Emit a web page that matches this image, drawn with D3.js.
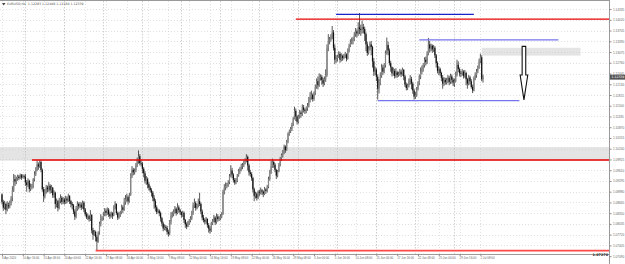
<!DOCTYPE html>
<html>
<head>
<meta charset="utf-8">
<script src="https://cdn.jsdelivr.net/npm/d3@7"></script>
<style>
body { margin: 0; background: #fff; }
svg { display: block; font-family: "DejaVu Sans", sans-serif; }
</style>
</head>
<body>
<svg id="chart" width="625" height="264"></svg>
<script>
// EURUSD H4, 8 Apr 2020 -> 2 Jul 2020, one row per trading day (6 bars)
var firstOpen = 1.0890;
var closes = [
  1.0868,1.0851,1.0862,1.0845,1.0858,1.0855,
  1.0866,1.0878,1.0902,1.0935,1.0928,1.0936,
  1.0942,1.0938,1.0946,1.0940,1.0944,1.0942,
  1.0925,1.0918,1.0930,1.0906,1.0912,1.0914,
  1.0934,1.0950,1.0962,1.0978,1.0972,1.0985,
  1.0962,1.0905,1.0885,1.0898,1.0910,1.0905,
  1.0915,1.0902,1.0910,1.0888,1.0895,1.0862,
  1.0870,1.0850,1.0872,1.0880,1.0868,1.0875,
  1.0868,1.0878,1.0872,1.0885,1.0870,1.0862,
  1.0858,1.0840,1.0825,1.0848,1.0862,1.0855,
  1.0860,1.0852,1.0866,1.0846,1.0832,1.0823,
  1.0826,1.0818,1.0830,1.0785,1.0772,1.0780,
  1.0765,1.0752,1.0778,1.0804,1.0818,1.0820,
  1.0830,1.0842,1.0836,1.0845,1.0832,1.0826,
  1.0834,1.0828,1.0850,1.0862,1.0835,1.0822,
  1.0830,1.0836,1.0852,1.0845,1.0866,1.0876,
  1.0882,1.0870,1.0888,1.0945,1.0962,1.0955,
  1.0960,1.0975,1.0990,1.1002,1.0982,1.0980,
  1.0965,1.0952,1.0930,1.0935,1.0920,1.0910,
  1.0902,1.0895,1.0880,1.0870,1.0852,1.0838,
  1.0842,1.0835,1.0820,1.0805,1.0790,1.0795,
  1.0792,1.0780,1.0775,1.0810,1.0828,1.0833,
  1.0840,1.0848,1.0835,1.0852,1.0844,1.0838,
  1.0830,1.0836,1.0815,1.0802,1.0796,1.0807,
  1.0812,1.0820,1.0835,1.0858,1.0865,1.0850,
  1.0858,1.0870,1.0862,1.0840,1.0822,1.0815,
  1.0810,1.0818,1.0800,1.0790,1.0784,1.0805,
  1.0812,1.0822,1.0808,1.0825,1.0818,1.0820,
  1.0825,1.0832,1.0898,1.0910,1.0915,1.0918,
  1.0926,1.0944,1.0960,1.0948,1.0932,1.0925,
  1.0930,1.0945,1.0958,1.0962,1.0972,1.0975,
  1.0985,1.0990,1.1000,1.0975,1.0955,1.0950,
  1.0938,1.0905,1.0885,1.0892,1.0880,1.0898,
  1.0895,1.0902,1.0898,1.0892,1.0905,1.0900,
  1.0912,1.0935,1.0955,1.0972,1.0985,1.0977,
  1.0962,1.0945,1.0958,1.0975,1.0995,1.1006,
  1.1015,1.1030,1.1020,1.1045,1.1068,1.1074,
  1.1082,1.1095,1.1112,1.1135,1.1118,1.1103,
  1.1118,1.1130,1.1126,1.1145,1.1138,1.1135,
  1.1142,1.1150,1.1168,1.1175,1.1182,1.1170,
  1.1188,1.1205,1.1222,1.1210,1.1232,1.1235,
  1.1226,1.1215,1.1228,1.1240,1.1318,1.1340,
  1.1345,1.1352,1.1365,1.1320,1.1285,1.1290,
  1.1294,1.1302,1.1285,1.1296,1.1290,1.1294,
  1.1300,1.1288,1.1310,1.1325,1.1336,1.1340,
  1.1345,1.1360,1.1368,1.1362,1.1380,1.1375,
  1.1372,1.1380,1.1375,1.1360,1.1330,1.1305,
  1.1318,1.1330,1.1322,1.1280,1.1250,1.1256,
  1.1235,1.1200,1.1215,1.1238,1.1262,1.1250,
  1.1268,1.1305,1.1328,1.1312,1.1275,1.1263,
  1.1245,1.1252,1.1238,1.1248,1.1240,1.1243,
  1.1250,1.1242,1.1255,1.1236,1.1212,1.1202,
  1.1210,1.1222,1.1228,1.1215,1.1195,1.1177,
  1.1182,1.1198,1.1215,1.1235,1.1250,1.1258,
  1.1268,1.1285,1.1278,1.1302,1.1330,1.1318,
  1.1326,1.1315,1.1320,1.1298,1.1275,1.1252,
  1.1258,1.1246,1.1232,1.1215,1.1226,1.1219,
  1.1225,1.1232,1.1220,1.1236,1.1226,1.1218,
  1.1222,1.1240,1.1270,1.1258,1.1245,1.1244,
  1.1250,1.1238,1.1246,1.1228,1.1215,1.1233,
  1.1222,1.1205,1.1195,1.1230,1.1240,1.1251,
  1.1262,1.1280,1.1292,1.1228,1.12339
];
var highs = [
  1.0893,1.0874,1.0871,1.0866,1.0870,1.0866,
  1.0872,1.0885,1.0914,1.0950,1.0947,1.0942,
  1.0948,1.0947,1.0951,1.0950,1.0949,1.0948,
  1.0950,1.0932,1.0937,1.0933,1.0922,1.0921,
  1.0938,1.0958,1.0970,1.0990,1.0984,1.0990,
  1.0990,1.0966,1.0912,1.0906,1.0918,1.0916,
  1.0926,1.0920,1.0918,1.0912,1.0902,1.0898,
  1.0878,1.0874,1.0880,1.0890,1.0885,1.0882,
  1.0880,1.0886,1.0884,1.0892,1.0888,1.0874,
  1.0868,1.0862,1.0846,1.0856,1.0870,1.0866,
  1.0868,1.0866,1.0872,1.0870,1.0850,1.0838,
  1.0834,1.0830,1.0844,1.0832,1.0792,1.0786,
  1.0784,1.0770,1.0782,1.0810,1.0832,1.0826,
  1.0838,1.0850,1.0848,1.0852,1.0850,1.0838,
  1.0840,1.0838,1.0858,1.0870,1.0864,1.0840,
  1.0838,1.0842,1.0860,1.0858,1.0880,1.0888,
  1.0892,1.0887,1.0894,1.0952,1.0973,1.0968,
  1.0966,1.0982,1.0998,1.1019,1.1008,1.0990,
  1.0985,1.0970,1.0958,1.0944,1.0940,1.0926,
  1.0915,1.0908,1.0900,1.0888,1.0876,1.0858,
  1.0848,1.0846,1.0840,1.0824,1.0810,1.0802,
  1.0800,1.0798,1.0786,1.0815,1.0838,1.0840,
  1.0846,1.0856,1.0852,1.0864,1.0858,1.0848,
  1.0840,1.0842,1.0840,1.0818,1.0808,1.0812,
  1.0818,1.0826,1.0842,1.0866,1.0878,1.0870,
  1.0862,1.0878,1.0895,1.0866,1.0846,1.0830,
  1.0820,1.0824,1.0820,1.0806,1.0796,1.0810,
  1.0818,1.0830,1.0826,1.0834,1.0832,1.0826,
  1.0832,1.0838,1.0904,1.0920,1.0925,1.0924,
  1.0932,1.0950,1.0976,1.0968,1.0952,1.0938,
  1.0938,1.0950,1.0965,1.0970,1.0980,1.0982,
  1.0990,1.0996,1.1008,1.1004,1.0980,1.0962,
  1.0955,1.0942,1.0910,1.0898,1.0896,1.0902,
  1.0904,1.0910,1.0906,1.0902,1.0912,1.0908,
  1.0918,1.0942,1.0962,1.0988,1.0995,1.0990,
  1.0982,1.0965,1.0962,1.0982,1.1000,1.1010,
  1.1020,1.1036,1.1034,1.1050,1.1072,1.1080,
  1.1088,1.1100,1.1118,1.1147,1.1142,1.1122,
  1.1124,1.1138,1.1136,1.1154,1.1152,1.1142,
  1.1148,1.1158,1.1176,1.1190,1.1194,1.1186,
  1.1192,1.1212,1.1230,1.1236,1.1245,1.1242,
  1.1240,1.1232,1.1236,1.1257,1.1330,1.1360,
  1.1352,1.1360,1.1384,1.1372,1.1330,1.1298,
  1.1300,1.1310,1.1308,1.1304,1.1300,1.1302,
  1.1308,1.1304,1.1318,1.1332,1.1345,1.1350,
  1.1352,1.1366,1.1378,1.1374,1.1395,1.1422,
  1.1388,1.1400,1.1390,1.1382,1.1365,1.1338,
  1.1325,1.1338,1.1340,1.1326,1.1290,1.1265,
  1.1260,1.1242,1.1228,1.1248,1.1272,1.1270,
  1.1275,1.1312,1.1350,1.1338,1.1318,1.1282,
  1.1265,1.1262,1.1258,1.1260,1.1252,1.1250,
  1.1258,1.1256,1.1262,1.1258,1.1240,1.1218,
  1.1215,1.1230,1.1240,1.1235,1.1220,1.1200,
  1.1190,1.1205,1.1222,1.1242,1.1262,1.1268,
  1.1275,1.1292,1.1294,1.1310,1.1349,1.1340,
  1.1332,1.1330,1.1328,1.1325,1.1302,1.1280,
  1.1266,1.1262,1.1250,1.1240,1.1234,1.1232,
  1.1232,1.1240,1.1238,1.1244,1.1242,1.1232,
  1.1230,1.1250,1.1285,1.1280,1.1262,1.1252,
  1.1258,1.1254,1.1255,1.1250,1.1232,1.1240,
  1.1238,1.1228,1.1212,1.1236,1.1248,1.1258,
  1.1268,1.1288,1.1303,1.1298,1.12408
];
var lows = [
  1.0861,1.0842,1.0846,1.0832,1.0840,1.0848,
  1.0849,1.0858,1.0870,1.0897,1.0915,1.0920,
  1.0930,1.0932,1.0935,1.0933,1.0937,1.0936,
  1.0915,1.0898,1.0912,1.0896,1.0900,1.0905,
  1.0908,1.0928,1.0944,1.0958,1.0962,1.0968,
  1.0955,1.0898,1.0868,1.0878,1.0892,1.0896,
  1.0898,1.0892,1.0894,1.0880,1.0880,1.0848,
  1.0852,1.0840,1.0846,1.0864,1.0860,1.0862,
  1.0860,1.0862,1.0864,1.0868,1.0862,1.0852,
  1.0846,1.0832,1.0815,1.0820,1.0842,1.0846,
  1.0850,1.0844,1.0848,1.0838,1.0826,1.0818,
  1.0815,1.0810,1.0812,1.0776,1.0757,1.0768,
  1.0752,1.0727,1.0748,1.0772,1.0796,1.0812,
  1.0815,1.0826,1.0826,1.0830,1.0824,1.0818,
  1.0822,1.0818,1.0826,1.0846,1.0830,1.0815,
  1.0818,1.0824,1.0832,1.0836,1.0842,1.0860,
  1.0868,1.0860,1.0866,1.0886,1.0938,1.0946,
  1.0948,1.0955,1.0970,1.0980,1.0975,1.0972,
  1.0952,1.0940,1.0922,1.0918,1.0908,1.0902,
  1.0896,1.0884,1.0870,1.0848,1.0840,1.0832,
  1.0834,1.0826,1.0810,1.0796,1.0782,1.0785,
  1.0784,1.0772,1.0766,1.0770,1.0802,1.0822,
  1.0826,1.0834,1.0828,1.0832,1.0836,1.0830,
  1.0822,1.0824,1.0806,1.0792,1.0788,1.0794,
  1.0800,1.0808,1.0815,1.0830,1.0850,1.0842,
  1.0846,1.0852,1.0856,1.0832,1.0814,1.0808,
  1.0802,1.0804,1.0792,1.0778,1.0775,1.0780,
  1.0800,1.0808,1.0800,1.0804,1.0810,1.0812,
  1.0815,1.0820,1.0830,1.0890,1.0902,1.0908,
  1.0912,1.0920,1.0940,1.0938,1.0925,1.0918,
  1.0920,1.0926,1.0942,1.0950,1.0958,1.0964,
  1.0970,1.0978,1.0984,1.0960,1.0945,1.0942,
  1.0930,1.0896,1.0870,1.0878,1.0872,1.0876,
  1.0885,1.0890,1.0888,1.0882,1.0888,1.0892,
  1.0896,1.0908,1.0930,1.0950,1.0968,1.0968,
  1.0955,1.0935,1.0940,1.0955,1.0972,1.0988,
  1.0998,1.1008,1.1012,1.1018,1.1040,1.1062,
  1.1070,1.1076,1.1090,1.1110,1.1105,1.1095,
  1.1098,1.1112,1.1115,1.1120,1.1130,1.1126,
  1.1128,1.1135,1.1145,1.1160,1.1168,1.1162,
  1.1165,1.1182,1.1200,1.1198,1.1205,1.1224,
  1.1212,1.1205,1.1210,1.1220,1.1235,1.1310,
  1.1330,1.1338,1.1345,1.1312,1.1272,1.1276,
  1.1280,1.1290,1.1276,1.1280,1.1282,1.1286,
  1.1290,1.1280,1.1285,1.1306,1.1322,1.1330,
  1.1330,1.1340,1.1352,1.1350,1.1355,1.1360,
  1.1355,1.1362,1.1362,1.1340,1.1310,1.1296,
  1.1300,1.1312,1.1298,1.1262,1.1237,1.1240,
  1.1222,1.1168,1.1186,1.1210,1.1232,1.1240,
  1.1245,1.1262,1.1300,1.1298,1.1268,1.1250,
  1.1236,1.1238,1.1230,1.1232,1.1232,1.1235,
  1.1238,1.1234,1.1238,1.1225,1.1205,1.1195,
  1.1196,1.1204,1.1212,1.1198,1.1185,1.1168,
  1.1170,1.1176,1.1195,1.1210,1.1228,1.1242,
  1.1250,1.1262,1.1268,1.1272,1.1298,1.1306,
  1.1310,1.1305,1.1308,1.1290,1.1262,1.1245,
  1.1240,1.1238,1.1222,1.1200,1.1208,1.1212,
  1.1212,1.1216,1.1210,1.1214,1.1215,1.1208,
  1.1205,1.1218,1.1236,1.1248,1.1236,1.1234,
  1.1238,1.1230,1.1232,1.1210,1.1200,1.1210,
  1.1212,1.1200,1.1187,1.1192,1.1225,1.1232,
  1.1245,1.1258,1.1275,1.1222,1.12180
];

var priceTicks = [1.14335,1.14020,1.13705,1.13390,1.13075,1.12760,1.12445,1.12130,
  1.11815,1.11500,1.11185,1.10870,1.10555,1.10240,1.09925,1.09610,1.09295,1.08980,
  1.08665,1.08350,1.08035,1.07720,1.07405,1.07090];
var timeLabels = ["8 Apr 2020","10 Apr 16:00","15 Apr 08:00","20 Apr 00:00","22 Apr 16:00",
  "27 Apr 08:00","30 Apr 00:00","4 May 16:00","7 May 08:00","12 May 00:00","14 May 16:00",
  "19 May 08:00","22 May 00:00","26 May 16:00","29 May 08:00","3 Jun 00:00","5 Jun 16:00",
  "10 Jun 08:00","15 Jun 00:00","17 Jun 16:00","22 Jun 08:00","25 Jun 00:00","29 Jun 16:00",
  "2 Jul 08:00"];
var weekStarts = [18,48,78,108,138,168,198,228,258,288,318,348];   // Monday 00:00 bars
var header = "EURUSD,H4  1.12283 1.12408 1.12180 1.12339";

// drawn objects (price, bar index)
var redLevels = [{price: 1.1404, from: 226}, {price: 1.0991, from: 23}, {price: 1.0725, from: 72}];
var blueLines = [{price: 1.1418, from: 257, to: 363}, {price: 1.1343, from: 321, to: 428},
                 {price: 1.1165, from: 289, to: 398}];
var zones = [{top: 1.1029, bottom: 1.0989, from: -2, to: 470}, {top: 1.1320, bottom: 1.1297, from: 369, to: 445}];
var arrow = {bar: 401.5, top: 1.1324, neck: 1.1240, tip: 1.1167};

var svg = d3.select("#chart");
var W = 609, H = 254;   // plot right edge / bottom edge

var x = d3.scaleLinear().domain([0, 100]).range([2, 132]);
var y = d3.scaleLinear().domain([1.0727, 1.1422]).range([250, 13]);

svg.append("defs").append("clipPath").attr("id", "plot")
    .append("rect").attr("x", 0).attr("y", 1).attr("width", W).attr("height", H - 1);

// grey zones
svg.append("g").attr("clip-path", "url(#plot)").selectAll("rect")
    .data(zones).enter().append("rect")
    .attr("x", function (d) { return x(d.from); })
    .attr("width", function (d) { return x(d.to) - x(d.from); })
    .attr("y", function (d) { return y(d.top); })
    .attr("height", function (d) { return y(d.bottom) - y(d.top); })
    .attr("fill", "#e4e4e4");

// grid
var grid = svg.append("g").attr("clip-path", "url(#plot)");
grid.selectAll("line.h").data(priceTicks).enter().append("line")
    .attr("x1", 0).attr("x2", W)
    .attr("y1", function (d) { return Math.round(y(d)) + 0.5; })
    .attr("y2", function (d) { return Math.round(y(d)) + 0.5; })
    .attr("stroke", "#c9c9d4").attr("stroke-width", 0.6).attr("stroke-dasharray", "1,2");
grid.selectAll("line.v").data(timeLabels).enter().append("line")
    .attr("x1", function (d, i) { return Math.round(x(i * 16)) + 0.5; })
    .attr("x2", function (d, i) { return Math.round(x(i * 16)) + 0.5; })
    .attr("y1", 1).attr("y2", H)
    .attr("stroke", "#cfcfd8").attr("stroke-width", 0.6).attr("stroke-dasharray", "1,2");
grid.selectAll("line.w").data(weekStarts).enter().append("line")
    .attr("x1", function (d) { return Math.round(x(d)) + 0.5; })
    .attr("x2", function (d) { return Math.round(x(d)) + 0.5; })
    .attr("y1", 1).attr("y2", H)
    .attr("stroke", "#bdbdbd").attr("stroke-width", 0.7).attr("stroke-dasharray", "1.5,1.5");

// candles
var bars = closes.map(function (c, i) {
    return {i: i, o: i ? closes[i - 1] : firstOpen, c: c, h: highs[i], l: lows[i]};
});
var candles = svg.append("g").attr("clip-path", "url(#plot)");
candles.selectAll("line").data(bars).enter().append("line")
    .attr("x1", function (d) { return x(d.i); })
    .attr("x2", function (d) { return x(d.i); })
    .attr("y1", function (d) { return y(Math.max(d.h, d.o, d.c)); })
    .attr("y2", function (d) { return y(Math.min(d.l, d.o, d.c)); })
    .attr("stroke", "#222").attr("stroke-width", 0.75);
candles.selectAll("rect").data(bars).enter().append("rect")
    .attr("x", function (d) { return x(d.i) - 0.6; })
    .attr("width", 1.2)
    .attr("y", function (d) { return y(Math.max(d.o, d.c)); })
    .attr("height", function (d) { return Math.max(0.6, Math.abs(y(d.o) - y(d.c))); })
    .attr("fill", function (d) { return d.c >= d.o ? "#858585" : "#111"; });

// horizontal levels
var objs = svg.append("g").attr("clip-path", "url(#plot)");
objs.selectAll("line.red").data(redLevels).enter().append("line")
    .attr("x1", function (d) { return x(d.from); }).attr("x2", W)
    .attr("y1", function (d) { return y(d.price); })
    .attr("y2", function (d) { return y(d.price); })
    .attr("stroke", function (d, i) { return i == 2 ? "#ff4a4a" : "#e80000"; })
    .attr("stroke-width", function (d, i) { return i == 2 ? 1.8 : 1.4; });
objs.selectAll("line.blue").data(blueLines).enter().append("line")
    .attr("x1", function (d) { return x(d.from); })
    .attr("x2", function (d) { return x(d.to); })
    .attr("y1", function (d) { return y(d.price); })
    .attr("y2", function (d) { return y(d.price); })
    .attr("stroke", function (d, i) { return i == 0 ? "#1f1fc8" : "#7474ee"; })
    .attr("stroke-width", 1.3);

// arrow
var ax = x(arrow.bar);
objs.append("path")
    .attr("d", "M" + (ax - 1.8) + "," + y(arrow.top) + "H" + (ax + 1.8) + "V" + y(arrow.neck) +
        "H" + (ax + 3.8) + "L" + ax + "," + y(arrow.tip) + "L" + (ax - 3.8) + "," + y(arrow.neck) +
        "H" + (ax - 1.8) + "Z")
    .attr("fill", "#fff").attr("stroke", "#111").attr("stroke-width", 1.1);

// frame
svg.append("line").attr("x1", 0).attr("x2", W).attr("y1", 0.5).attr("y2", 0.5).attr("stroke", "#9a9a9a");
svg.append("line").attr("x1", 0).attr("x2", W).attr("y1", H + 0.5).attr("y2", H + 0.5).attr("stroke", "#9a9a9a");
svg.append("line").attr("x1", W + 0.5).attr("x2", W + 0.5).attr("y1", 0).attr("y2", 264).attr("stroke", "#9a9a9a");

// price axis
var yAxis = svg.append("g").attr("transform", "translate(" + (W + 0.5) + ",0)")
    .call(d3.axisRight(y).tickValues(priceTicks).tickSize(2).tickPadding(1.5)
        .tickFormat(d3.format(".5f")));
yAxis.select(".domain").remove();
yAxis.selectAll("line").attr("stroke", "#8a8a8a");
yAxis.selectAll("text").attr("font-size", 3.1).attr("fill", "#666");

// time axis
var xAxis = svg.append("g").attr("transform", "translate(0," + (H + 0.5) + ")")
    .call(d3.axisBottom(x).tickValues(d3.range(timeLabels.length).map(function (k) { return k * 16; }))
        .tickSize(1.5).tickPadding(1)
        .tickFormat(function (d) { return timeLabels[d / 16]; }));
xAxis.select(".domain").remove();
xAxis.selectAll("line").attr("stroke", "#8a8a8a");
xAxis.selectAll("text").attr("font-size", 2.9).attr("fill", "#666")
    .attr("text-anchor", "start").attr("dx", -0.5);

// current price marker
var last = closes[closes.length - 1];
svg.append("rect").attr("x", W + 1).attr("y", y(last) - 2.5).attr("width", 15).attr("height", 5)
    .attr("fill", "#555");
svg.append("text").attr("x", W + 2.5).attr("y", y(last) + 1.1).attr("font-size", 3.1)
    .attr("fill", "#fff").text(d3.format(".5f")(last));

// low level label
svg.append("text").attr("x", W - 1).attr("y", 256.3).attr("text-anchor", "end")
    .attr("font-size", 3.4).attr("font-weight", "bold").attr("fill", "#222")
    .text(d3.format(".5f")(1.0727));

// header
svg.append("path").attr("d", "M2,3 L5.5,3 L3.75,5.5 Z").attr("fill", "#444");
svg.append("text").attr("x", 7).attr("y", 5.3).attr("font-size", 3.2).attr("fill", "#555")
    .attr("xml:space", "preserve").text(header);
</script>
</body>
</html>
